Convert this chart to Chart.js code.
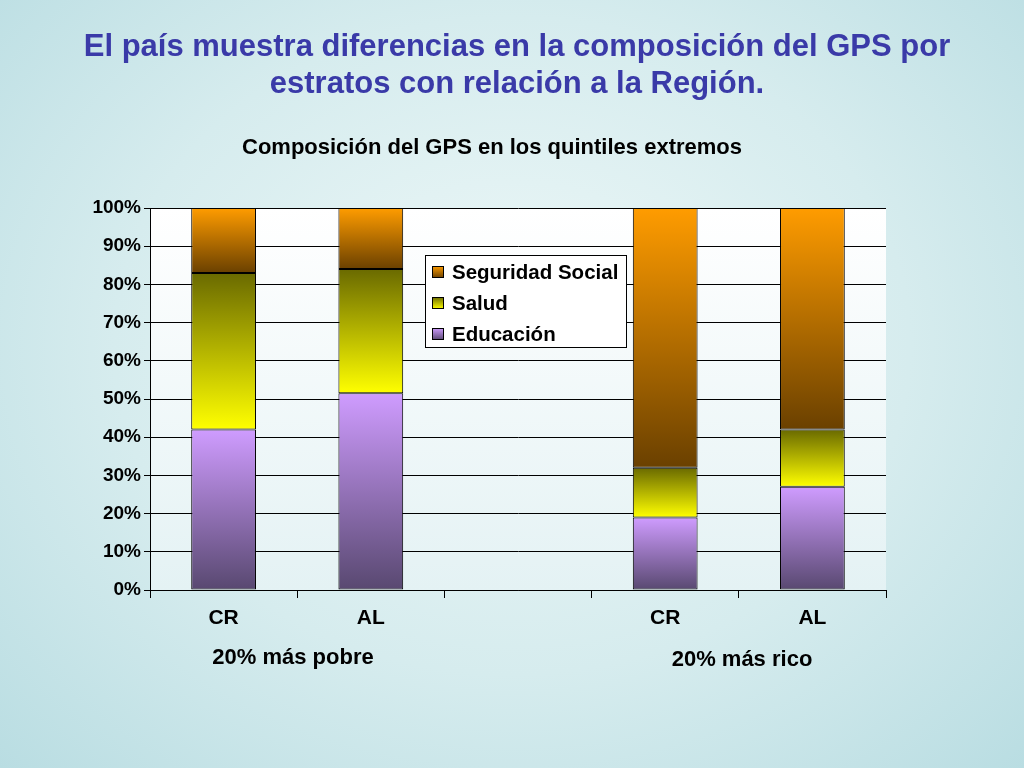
<!DOCTYPE html>
<html>
<head>
<meta charset="utf-8">
<script src="https://cdn.jsdelivr.net/npm/chart.js@4/dist/chart.umd.min.js"></script>
<style>
  html, body { margin: 0; padding: 0; }
  body {
    width: 1024px; height: 768px; overflow: hidden;
    background: radial-gradient(ellipse at 50% 45%, #eef8f8 0%, #d6ecee 55%, #b9dde2 100%);
  }
  #wrap { position: absolute; left: 0; top: 0; width: 1024px; height: 768px; }
</style>
</head>
<body>
<div id="wrap"><canvas id="gpsChart" width="1024" height="768"></canvas></div>
<script>
// Datos
const categorias = ['CR', 'AL', '', 'CR', 'AL'];
const educacion = [42, 51.5, null, 19, 27];
const salud = [41, 32.5, null, 13, 15];
const seguridadSocial = [17, 16, null, 68, 58];
const ticksY = [0, 10, 20, 30, 40, 50, 60, 70, 80, 90, 100];

// Colores de los degradados (arriba, abajo)
const gradEdu = ['#cf9cff', '#584870'];
const gradSalud = ['#6a6a00', '#ffff00'];
const gradSS = ['#ff9c00', '#6a4000'];

const font = 'Arial, "Liberation Sans", sans-serif';

function gradiente(colors, baseIdx) {
    return function(ctx) {
        const chart = ctx.chart;
        const y = chart.scales.y;
        if (!y || !chart.chartArea || ctx.type !== 'data') return colors[0];
        const i = ctx.dataIndex;
        let start = 0;
        const capas = [educacion, salud, seguridadSocial];
        for (let k = 0; k < baseIdx; k++) start += capas[k][i] || 0;
        const end = start + (capas[baseIdx][i] || 0);
        const top = y.getPixelForValue(end), bot = y.getPixelForValue(start);
        if (!isFinite(top) || !isFinite(bot) || top === bot) return colors[0];
        const g = chart.ctx.createLinearGradient(0, top, 0, bot);
        g.addColorStop(0, colors[0]);
        g.addColorStop(1, colors[1]);
        return g;
    };
}

const textos = {
    id: 'textos',
    beforeDraw(chart) {
        const c = chart.ctx, a = chart.chartArea;
        c.save();
        const g = c.createLinearGradient(0, a.top, 0, a.bottom);
        g.addColorStop(0, '#ffffff');
        g.addColorStop(1, '#e4f2f4');
        c.fillStyle = g;
        c.fillRect(a.left, a.top, a.right - a.left, a.bottom - a.top);
        c.restore();
    },
    afterDraw(chart) {
        const c = chart.ctx;
        c.save();
        c.textAlign = 'center';
        c.textBaseline = 'middle';
        c.fillStyle = '#3a3aa8';
        c.font = 'bold 31px ' + font;
        c.fillText('El país muestra diferencias en la composición del GPS por', 517, 47);
        c.fillText('estratos con relación a la Región.', 517, 84);
        c.fillStyle = '#000';
        c.font = 'bold 22px ' + font;
        c.fillText('Composición del GPS en los quintiles extremos', 492, 148);
        c.font = 'bold 22px ' + font;
        c.fillText('20% más pobre', 293, 658);
        c.fillText('20% más rico', 742, 660);

        // Leyenda
        const lx = 425, ly = 255, lw = 201, lh = 92;
        c.fillStyle = '#fff';
        c.fillRect(lx, ly, lw, lh);
        c.strokeStyle = '#000';
        c.lineWidth = 1;
        c.strokeRect(lx + 0.5, ly + 0.5, lw, lh);
        const items = [['Seguridad Social', gradSS], ['Salud', gradSalud], ['Educación', gradEdu]];
        c.textAlign = 'left';
        c.font = 'bold 20.5px ' + font;
        items.forEach((it, k) => {
            const yy = ly + 17 + k * 31;
            const sg = c.createLinearGradient(0, yy - 6, 0, yy + 6);
            sg.addColorStop(0, it[1][0]);
            sg.addColorStop(1, it[1][1]);
            c.fillStyle = sg;
            c.fillRect(lx + 7, yy - 6, 12, 12);
            c.strokeRect(lx + 7.5, yy - 5.5, 11, 11);
            c.fillStyle = '#000';
            c.fillText(it[0], lx + 27, yy + 1);
        });
        c.restore();
    }
};

new Chart(document.getElementById('gpsChart'), {
    type: 'bar',
    data: {
        labels: categorias,
        datasets: [
            { label: 'Educación', data: educacion, backgroundColor: gradiente(gradEdu, 0) },
            { label: 'Salud', data: salud, backgroundColor: gradiente(gradSalud, 1) },
            { label: 'Seguridad Social', data: seguridadSocial, backgroundColor: gradiente(gradSS, 2) }
        ].map(d => Object.assign(d, {
            borderColor: '#000', borderWidth: 1, borderSkipped: false,
            categoryPercentage: 1, barPercentage: 0.44
        }))
    },
    options: {
        responsive: false,
        animation: false,
        layout: { padding: { top: 208, right: 138, left: 0, bottom: 0 } },
        plugins: { legend: { display: false }, title: { display: false }, tooltip: { enabled: false } },
        scales: {
            x: {
                stacked: true,
                afterFit: s => { s.height = 178; },
                grid: { offset: true, drawOnChartArea: false, color: '#000', tickLength: 8 },
                border: { color: '#000' },
                ticks: { color: '#000', font: { family: font, size: 21, weight: 'bold' }, padding: 8 }
            },
            y: {
                stacked: true, min: 0, max: 100,
                afterFit: s => { s.width = 150; },
                afterBuildTicks: s => { s.ticks = ticksY.map(v => ({ value: v })); },
                grid: { color: '#000', tickLength: 6 },
                border: { color: '#000' },
                ticks: { color: '#000', font: { family: font, size: 19, weight: 'bold' }, callback: v => v + '%' }
            }
        }
    },
    plugins: [textos]
});
</script>
</body>
</html>
